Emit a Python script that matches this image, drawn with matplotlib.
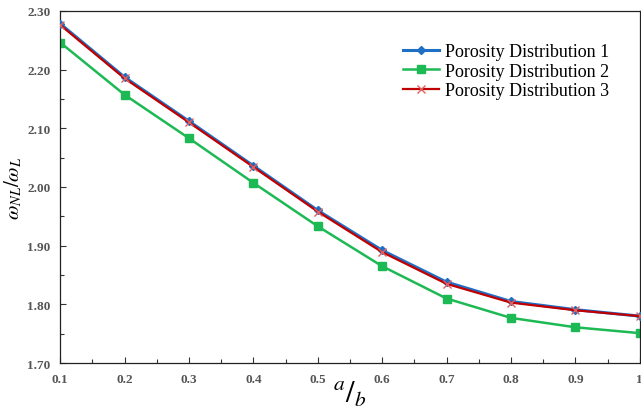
import numpy as np
import matplotlib
matplotlib.use('Agg')
import matplotlib.pyplot as plt
import matplotlib.ticker as plticker

# Data

ratio = [0.1, 0.2, 0.3, 0.4, 0.5, 0.6, 0.7, 0.8, 0.9, 1.0]

dist_1 = [2.278, 2.187, 2.112, 2.036, 1.960, 1.892, 1.838, 1.805, 1.791, 1.780]
dist_2 = [2.246, 2.157, 2.083, 2.007, 1.933, 1.865, 1.810, 1.777, 1.761, 1.751]
dist_3 = [2.276, 2.185, 2.110, 2.034, 1.958, 1.889, 1.835, 1.803, 1.790, 1.780]

labels = ['Porosity Distribution 1', 'Porosity Distribution 2', 'Porosity Distribution 3']

plt.rcParams['font.family'] = ['Liberation Serif', 'DejaVu Serif']
plt.rcParams['mathtext.fontset'] = 'stix'

fig = plt.figure(figsize=(6.41, 4.10), dpi=100)
ax = fig.add_axes([0.094, 0.112, 0.904, 0.859])

ax.plot(ratio, dist_1, color='#1F6FC5', lw=2.2, marker='D', ms=4, label=labels[0], zorder=3)
ax.plot(ratio, dist_2, color='#1DB954', lw=1.8, marker='s', ms=6, label=labels[1], zorder=2)
ax.plot(ratio, dist_3, color='#C00000', lw=1.6, marker='x', ms=6, mew=1.0,
        mec='#E06060', label=labels[2], zorder=4)

ax.set_xlim(0.1, 1.0)
ax.set_ylim(1.70, 2.30)

ax.xaxis.set_major_locator(plticker.MultipleLocator(0.1))
ax.xaxis.set_minor_locator(plticker.MultipleLocator(0.05))
ax.yaxis.set_major_locator(plticker.MultipleLocator(0.1))
ax.yaxis.set_minor_locator(plticker.MultipleLocator(0.05))
ax.xaxis.set_major_formatter(plticker.FuncFormatter(lambda v, p: '1' if abs(v - 1) < 1e-9 else '{:.1f}'.format(v)))
ax.yaxis.set_major_formatter(plticker.FormatStrFormatter('%.2f'))

ax.tick_params(which='both', direction='in', top=False, right=False,
               labelsize=9.5, labelcolor='#555555', width=0.8, color='#333333')
ax.tick_params(which='major', length=4, pad=7)
ax.tick_params(which='minor', length=3)
for lab in ax.get_xticklabels() + ax.get_yticklabels():
    lab.set_fontweight('bold')

for s in ax.spines.values():
    s.set_linewidth(0.9)
    s.set_color('#222222')

ax.set_xlabel(r'$^{a}/_{b}$', fontsize=22, labelpad=-4)
ax.set_ylabel(r'$\omega_{NL}/\omega_{L}$', fontsize=15, labelpad=2)

ax.legend(loc='upper right', bbox_to_anchor=(0.975, 0.955), frameon=False,
          fontsize=13, handlelength=2.0, labelspacing=0.15, handletextpad=0.3)

fig.savefig('out.png', dpi=100)
